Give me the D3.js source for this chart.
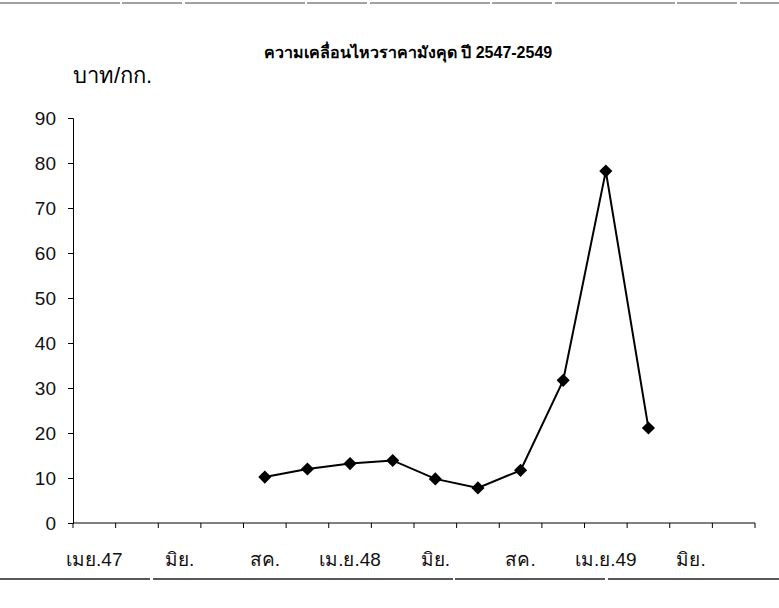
<!DOCTYPE html>
<html>
<head>
<meta charset="utf-8">
<script src="https://cdn.jsdelivr.net/npm/d3@7"></script>
<style>
  body { margin: 0; background: #fff; }
  svg { font-family: "Liberation Sans", Arial, sans-serif; }
</style>
</head>
<body>
<svg id="chart" width="779" height="608"></svg>
<script>
// month slots along the category axis, labels only on every second slot
var monthLabels = ['เมย.47', '', 'มิย.', '', 'สค.', '', 'เม.ย.48', '', 'มิย.', '', 'สค.', '', 'เม.ย.49', '', 'มิย.', ''];
// price (baht/kg) per slot, null where there is no data
var prices = [null, null, null, null, 10.2, 12.0, 13.2, 13.9, 9.8, 7.8, 11.7, 31.7, 78.2, 21.1, null, null];
var yTicks = [0, 10, 20, 30, 40, 50, 60, 70, 80, 90];

var svg = d3.select('#chart'),
    plotLeft = 73, plotRight = 755, plotTop = 118, plotBottom = 523;

var x = d3.scaleBand()
    .domain(d3.range(monthLabels.length))
    .range([plotLeft, plotRight]);

var y = d3.scaleLinear()
    .domain([0, 90])
    .range([plotBottom, plotTop]);

// frame lines from the scan
svg.append('line').attr('x1', 0).attr('x2', 779).attr('y1', 3).attr('y2', 3)
    .attr('stroke', '#444').attr('stroke-width', 1).attr('stroke-dasharray', '120,2,60,3');
svg.append('line').attr('x1', 0).attr('x2', 779).attr('y1', 579).attr('y2', 579)
    .attr('stroke', '#222').attr('stroke-width', 1.6).attr('stroke-dasharray', '150,3,300,2');

svg.append('text')
    .attr('x', 408).attr('y', 58)
    .attr('text-anchor', 'middle')
    .attr('font-size', 16).attr('font-weight', 'bold')
    .text('ความเคลื่อนไหวราคามังคุด ปี 2547-2549');

svg.append('text')
    .attr('x', 73).attr('y', 83)
    .attr('font-size', 22)
    .text('บาท/กก.');

// y axis
var yAxis = svg.append('g')
    .attr('transform', 'translate(' + plotLeft + ',0)')
    .call(d3.axisLeft(y).tickValues(yTicks).tickSize(5).tickPadding(12));
yAxis.selectAll('text').attr('font-size', 19).attr('fill', '#111')
    .attr('font-family', '"Liberation Sans", Arial, sans-serif');
yAxis.select('.domain').attr('stroke', '#000');
yAxis.selectAll('.tick line').attr('stroke', '#000');

// x axis: ticks on slot boundaries, labels centred in the slot
var xAxis = svg.append('g')
    .attr('transform', 'translate(0,' + plotBottom + ')');
xAxis.append('line')
    .attr('x1', plotLeft).attr('x2', plotRight)
    .attr('stroke', '#000');
xAxis.selectAll('.xtick')
    .data(d3.range(monthLabels.length + 1))
    .join('line')
    .attr('class', 'xtick')
    .attr('x1', function(i){ return plotLeft + i * x.step(); })
    .attr('x2', function(i){ return plotLeft + i * x.step(); })
    .attr('y1', 0).attr('y2', 5)
    .attr('stroke', '#000');
xAxis.selectAll('.lbl')
    .data(monthLabels)
    .join('text')
    .attr('class', 'lbl')
    .attr('x', function(d, i){ return x(i) + x.bandwidth() / 2; })
    .attr('y', 43)
    .attr('text-anchor', 'middle')
    .attr('font-size', 19)
    .attr('fill', '#111')
    .text(function(d){ return d; });

// price line
var pts = prices.map(function(v, i){ return { i: i, v: v }; })
    .filter(function(p){ return p.v !== null; });

var line = d3.line()
    .x(function(p){ return x(p.i) + x.bandwidth() / 2; })
    .y(function(p){ return y(p.v); });

svg.append('path')
    .datum(pts)
    .attr('d', line)
    .attr('fill', 'none')
    .attr('stroke', '#000')
    .attr('stroke-width', 2);

svg.selectAll('.mark')
    .data(pts)
    .join('path')
    .attr('class', 'mark')
    .attr('d', d3.symbol().type(d3.symbolDiamond2).size(110))
    .attr('transform', function(p){
        return 'translate(' + (x(p.i) + x.bandwidth() / 2) + ',' + y(p.v) + ')';
    })
    .attr('fill', '#000');
</script>
</body>
</html>
